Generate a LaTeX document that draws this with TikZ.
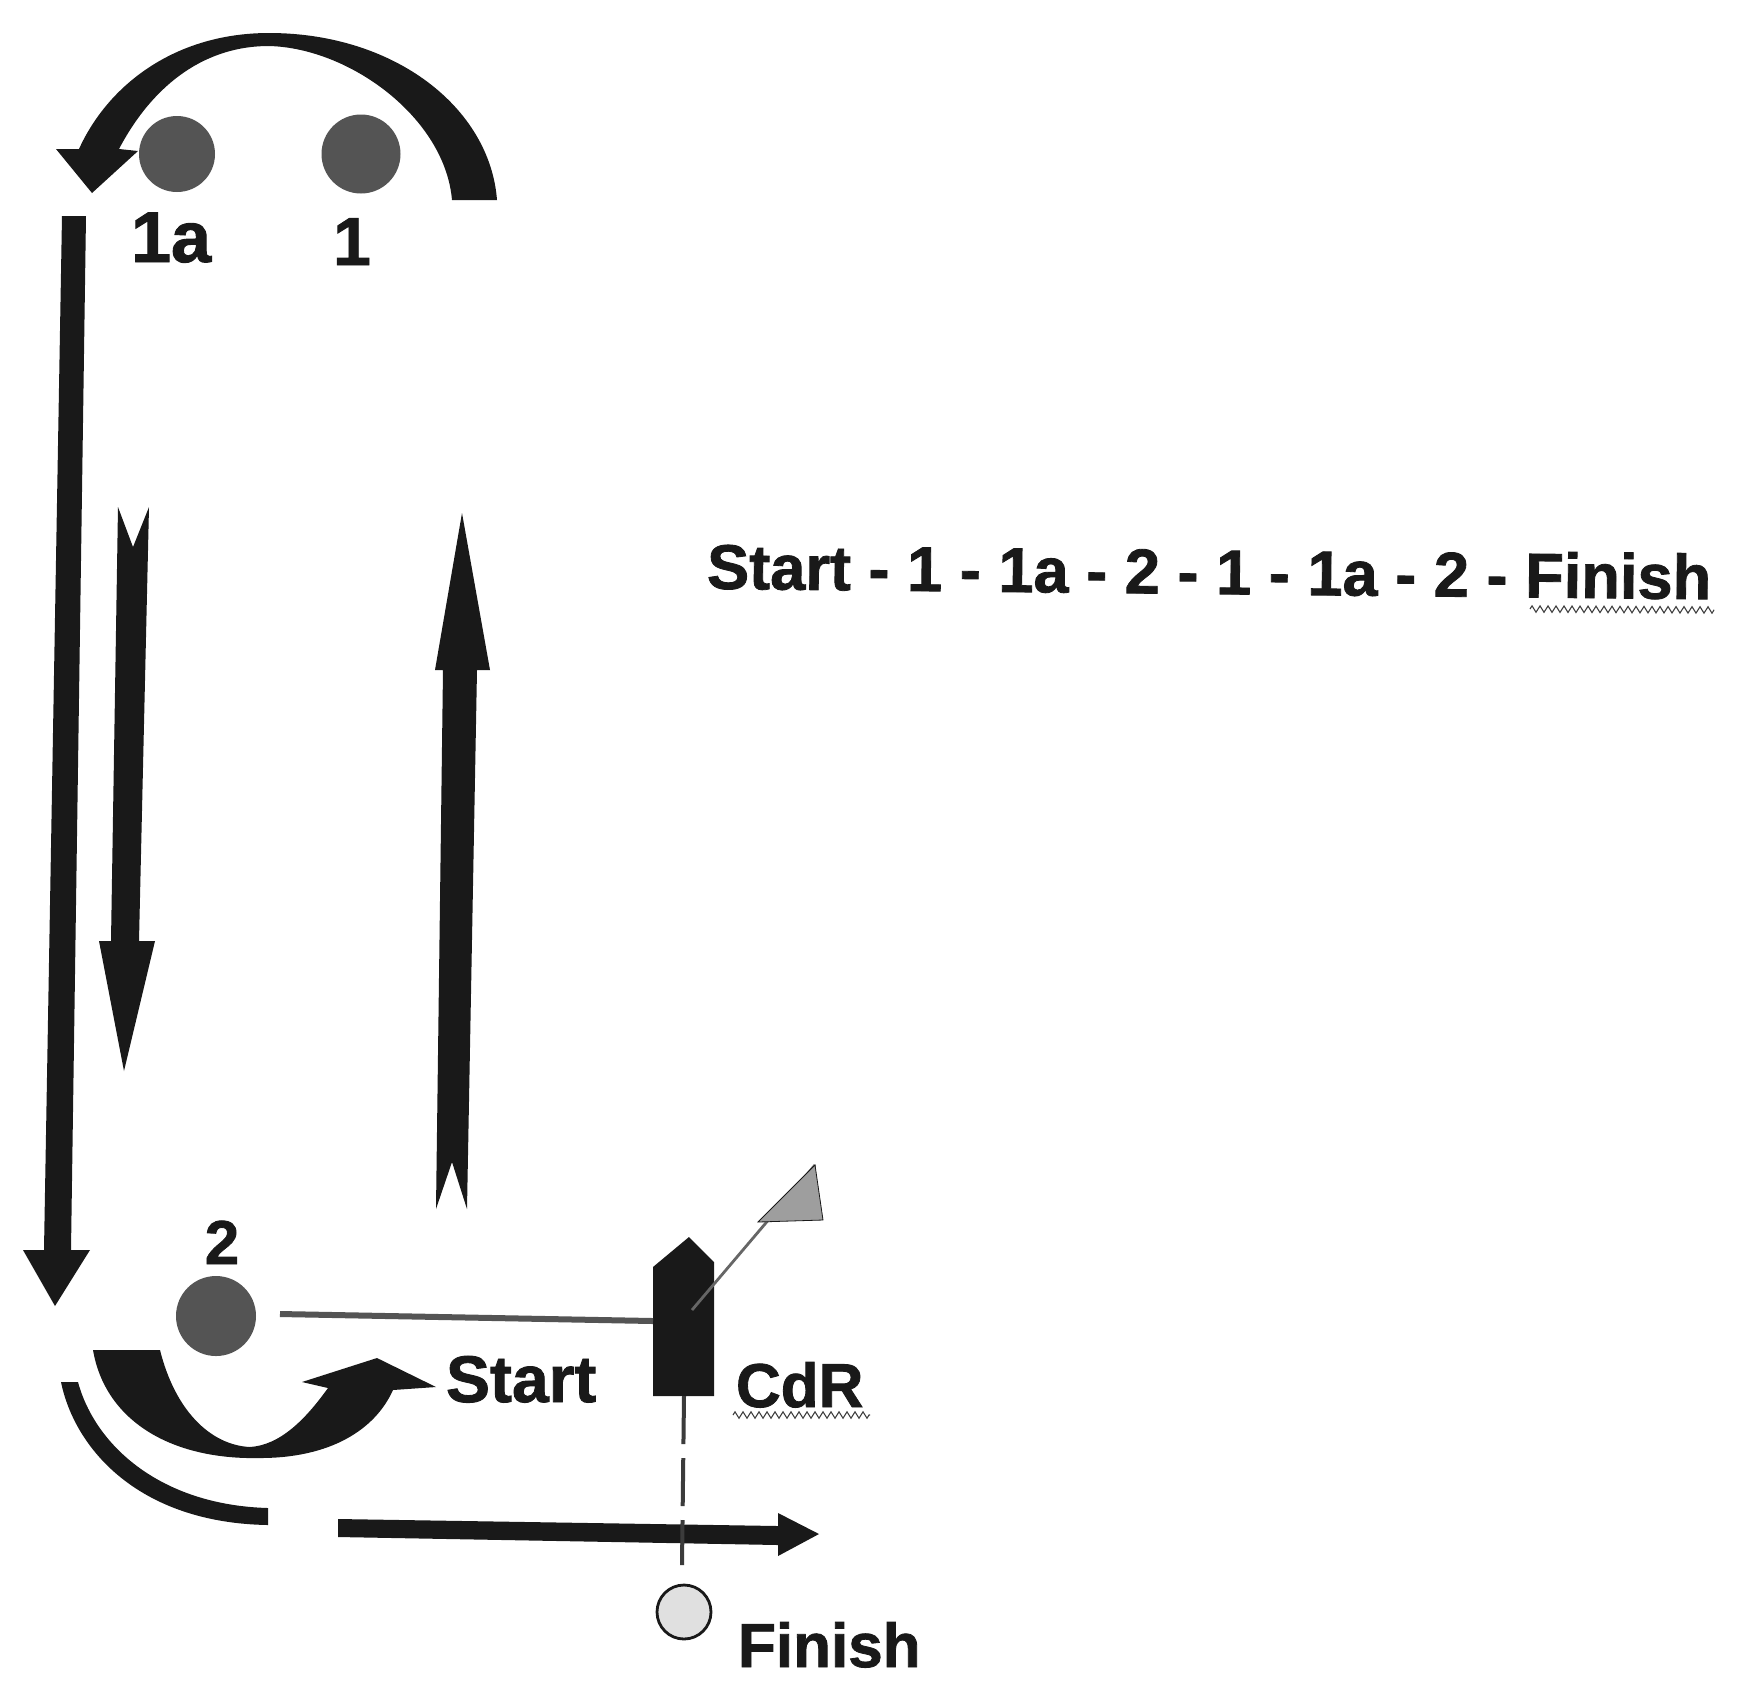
\documentclass[tikz,border=0pt]{standalone}
\usepackage{fontspec}
\usetikzlibrary{decorations.pathmorphing}
\newfontfamily\lab[BoldFont={Liberation Sans Bold},BoldFeatures={FakeBold=1.3}]{Liberation Sans}
\definecolor{ink}{gray}{0.10}
\definecolor{buoyc}{gray}{0.33}
\definecolor{flagc}{gray}{0.62}
\definecolor{finc}{gray}{0.88}
\tikzset{
  lbl/.style={font=\lab\bfseries\fontsize{#1}{#1}\selectfont,text=ink,inner sep=0pt,outer sep=0pt},
  lbl/.default=31,
  buoy/.style={circle,fill=buoyc,minimum size=#1,inner sep=0pt},
  wavy/.style={draw=black!75,line width=0.55pt,decorate,decoration={zigzag,segment length=4pt,amplitude=1.6pt}}
}
\begin{document}
\begin{tikzpicture}[x=0.5pt,y=-0.5pt]
\useasboundingbox (0,0) rectangle (1750,1694);
\fill[white] (0,0) rectangle (1750,1694);

% buoys
\node[buoy=38pt] (b1a) at (177,154) {};
\node[buoy=39.5pt] (b1) at (361,154) {};
\node[buoy=40pt] (b2) at (216,1316) {};
\node[circle,fill=finc,draw=ink,line width=1.4pt,minimum size=27pt,inner sep=0pt] (bf) at (684,1612) {};

% labels
\node[lbl=36,anchor=base west] (t1a) at (131,262) {1a};
\node[lbl=34,anchor=base] (t1) at (352,265) {1};
\node[lbl,anchor=base] (t2) at (222,1264) {2};
\node[lbl=33,anchor=base west] (tstart) at (446,1402) {Start};
\node[lbl,anchor=base west] (tcdr) at (736,1407) {CdR};
\node[lbl,anchor=base west] (tfin) at (738,1667) {Finish};
\node[lbl=31.6,anchor=base,rotate=-0.6] (tseq) at (1209,594) {Start - 1 - 1a - 2 - 1 - 1a - 2 - Finish};

% wavy underlines
\coordinate (w1l) at (733,1415); \coordinate (w1r) at (870,1415);
\draw[wavy] (w1l) -- (w1r);
\coordinate (w2l) at (1530,609); \coordinate (w2r) at (1714,610);
\draw[wavy] (w2l) -- (w2r);

% top curved arrow
\fill[ink] (497,200) .. controls (490,108) and (395,33) .. (269,33)
  .. controls (175,33) and (108,85) .. (79,149)
  -- (56,149) -- (92,193) -- (138,151) -- (119,149)
  .. controls (150,90) and (200,46) .. (269,46)
  .. controls (350,48) and (445,118) .. (452,200) -- cycle;

% long down arrow
\fill[ink] (62,216) -- (86,216) -- (71,1250) -- (90,1250) -- (55,1306) -- (23,1250) -- (44,1250) -- cycle;

% swallow-tail down arrow
\fill[ink] (118,507) -- (133,547) -- (149,507) -- (139,941) -- (155,941) -- (124,1071) -- (99,941) -- (111,941) -- cycle;

% swallow-tail up arrow
\fill[ink] (462,513) -- (490,670) -- (477,670) -- (467,1209) -- (452,1162) -- (436,1209) -- (443,670) -- (435,670) -- cycle;

% big U arrow
\fill[ink] (93,1350) .. controls (105,1420) and (170,1460) .. (260,1458)
  .. controls (330,1458) and (375,1430) .. (393,1390)
  -- (436,1387) -- (377,1358) -- (302,1382) -- (328,1388)
  .. controls (305,1420) and (280,1445) .. (250,1447)
  .. controls (210,1445) and (175,1410) .. (160,1350) -- cycle;

% thin quarter arc
\fill[ink] (61,1382) .. controls (75,1450) and (140,1523) .. (268,1525)
  -- (268,1508) .. controls (160,1505) and (95,1445) .. (78,1382) -- cycle;

% horizontal arrow
\fill[ink] (338,1519) -- (778,1526) -- (778,1513) -- (819,1534) -- (778,1556) -- (778,1545) -- (338,1537) -- cycle;

% committee boat
\fill[ink] (653,1396) -- (653,1267) -- (689,1237) -- (714,1262) -- (714,1396) -- cycle;
\coordinate (bportl) at (653,1321);
\coordinate (bbow) at (692,1310);
\coordinate (bstern) at (684,1396);
\coordinate (flagtop) at (815,1165);
\coordinate (lstart) at (280,1314);
\coordinate (dashend) at (682,1565);

\draw[buoyc,line width=3pt] (lstart) -- (bportl);
\draw[black!60,line width=1.4pt] (bbow) -- (flagtop);
\fill[flagc,draw=ink,line width=0.4pt] (flagtop) -- (823,1220) -- (758,1222) -- cycle;
\draw[buoyc!70!black,line width=2pt,dash pattern=on 24pt off 7pt] (bstern) -- (dashend);
\end{tikzpicture}
\end{document}
